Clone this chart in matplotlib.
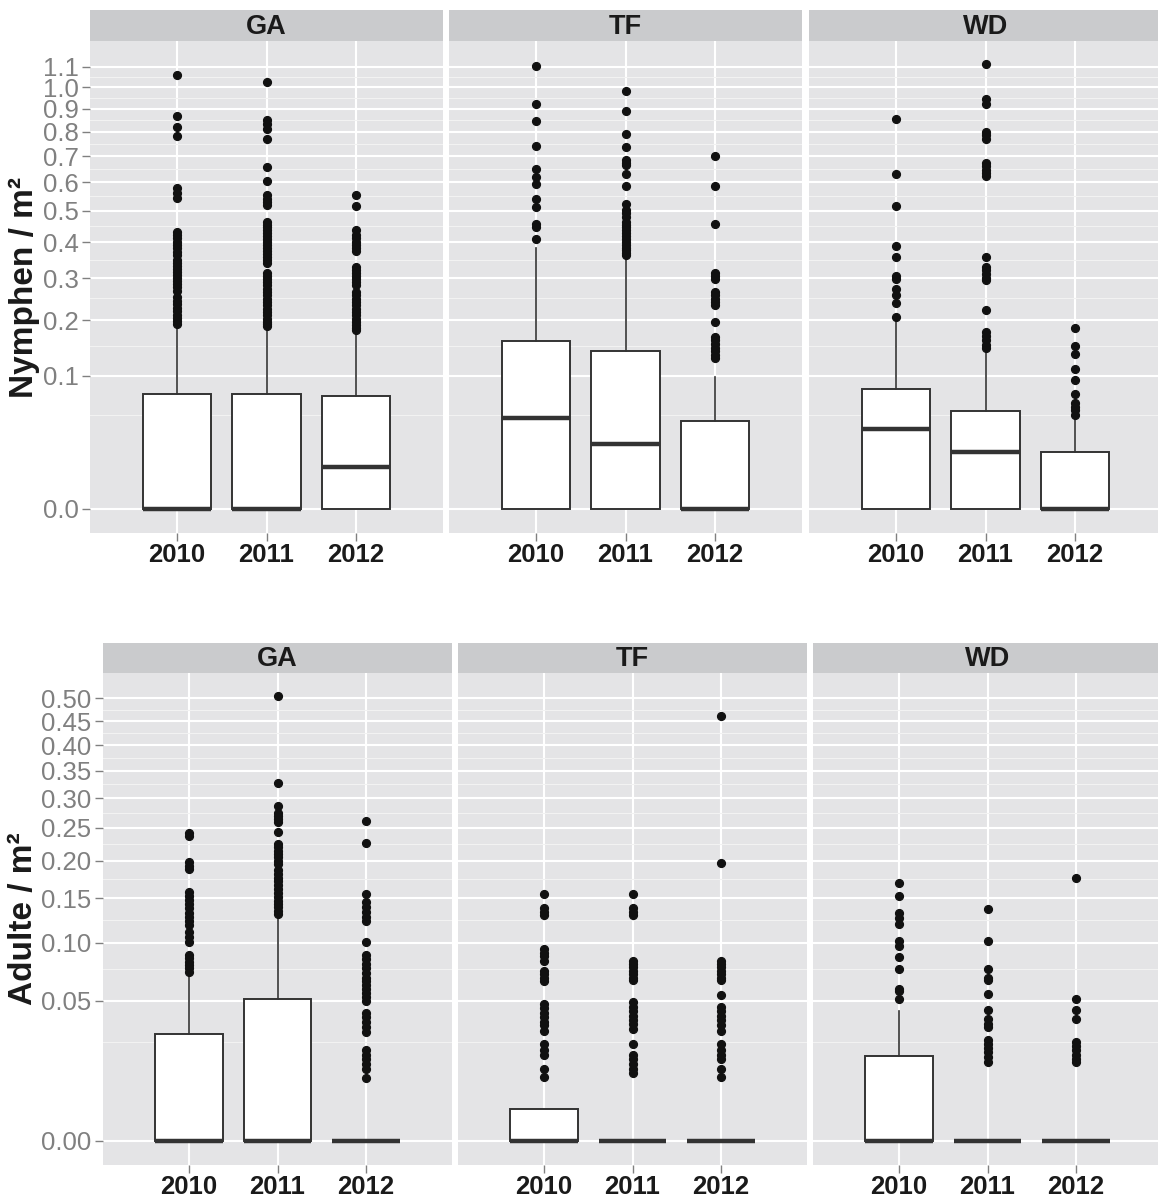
import numpy as np
import matplotlib
matplotlib.use("Agg")
import matplotlib.pyplot as plt

plt.rcParams['font.family'] = ['Liberation Sans', 'DejaVu Sans']

years = ['2010', '2011', '2012']
sites = ['GA', 'TF', 'WD']

# box statistics per site, one value per year (lower quartile and lower whisker are 0 everywhere)
nymph_med = {'GA': [0.0, 0.0, 0.0098], 'TF': [0.047, 0.0238, 0.0], 'WD': [0.0363, 0.0181, 0.0]}
nymph_q3 = {'GA': [0.0744, 0.0744, 0.0722], 'TF': [0.159, 0.141, 0.044], 'WD': [0.081, 0.0543, 0.0181]}
nymph_whi = {'GA': [0.185, 0.183, 0.175], 'TF': [0.382, 0.358, 0.098], 'WD': [0.197, 0.136, 0.0445]}

nymph_out = {
    'GA': [
        [1.059, 0.87, 0.82, 0.782, 0.579, 0.562, 0.545, 0.432, 0.422, 0.412, 0.402, 0.392,
         0.382, 0.372, 0.362, 0.35, 0.34, 0.332, 0.324, 0.316, 0.308, 0.30, 0.292, 0.284,
         0.276, 0.268, 0.252, 0.244, 0.236, 0.228, 0.22, 0.212, 0.205, 0.198, 0.193],
        [1.024, 0.851, 0.835, 0.81, 0.77, 0.656, 0.606, 0.554, 0.54, 0.53, 0.52, 0.464,
         0.455, 0.446, 0.437, 0.428, 0.419, 0.41, 0.401, 0.392, 0.383, 0.374, 0.365, 0.356,
         0.348, 0.34, 0.314, 0.305, 0.297, 0.289, 0.281, 0.273, 0.265, 0.257, 0.249, 0.241,
         0.233, 0.225, 0.218, 0.211, 0.204, 0.197, 0.192, 0.188],
        [0.556, 0.517, 0.438, 0.422, 0.412, 0.402, 0.392, 0.382, 0.375, 0.33, 0.322, 0.314,
         0.306, 0.298, 0.29, 0.282, 0.265, 0.257, 0.249, 0.241, 0.233, 0.225, 0.218, 0.211,
         0.204, 0.197, 0.19, 0.185, 0.181],
    ],
    'TF': [
        [1.105, 0.922, 0.848, 0.742, 0.65, 0.621, 0.594, 0.539, 0.512, 0.457, 0.447, 0.41],
        [0.984, 0.892, 0.791, 0.735, 0.685, 0.672, 0.664, 0.631, 0.588, 0.523, 0.503, 0.492,
         0.481, 0.464, 0.455, 0.446, 0.437, 0.428, 0.419, 0.41, 0.401, 0.392, 0.384, 0.376,
         0.369, 0.363],
        [0.70, 0.588, 0.457, 0.314, 0.305, 0.297, 0.265, 0.257, 0.249, 0.241, 0.234, 0.196,
         0.167, 0.16, 0.153, 0.146, 0.14, 0.134, 0.128],
    ],
    'WD': [
        [0.855, 0.631, 0.517, 0.39, 0.356, 0.305, 0.298, 0.271, 0.258, 0.239, 0.207],
        [1.114, 0.945, 0.922, 0.798, 0.785, 0.769, 0.672, 0.66, 0.648, 0.636, 0.625, 0.356,
         0.33, 0.32, 0.31, 0.30, 0.295, 0.223, 0.177, 0.168, 0.16, 0.152, 0.145],
        [0.185, 0.149, 0.135, 0.111, 0.093, 0.074, 0.063, 0.059, 0.055, 0.05],
    ],
}

adult_med = {'GA': [0.0, 0.0, 0.0], 'TF': [0.0, 0.0, 0.0], 'WD': [0.0, 0.0, 0.0]}
adult_q3 = {'GA': [0.0289, 0.051, 0.0], 'TF': [0.0025, 0.0, 0.0], 'WD': [0.0183, 0.0, 0.0]}
adult_whi = {'GA': [0.0692, 0.128, 0.0], 'TF': [0.0025, 0.0, 0.0], 'WD': [0.0431, 0.0, 0.0]}

adult_out = {
    'GA': [
        [0.242, 0.238, 0.198, 0.193, 0.188, 0.158, 0.153, 0.148, 0.143, 0.138, 0.133, 0.128,
         0.123, 0.119, 0.111, 0.106, 0.101, 0.088, 0.085, 0.082, 0.079, 0.076, 0.073],
        [0.505, 0.327, 0.286, 0.275, 0.27, 0.265, 0.26, 0.244, 0.225, 0.22, 0.215, 0.21,
         0.205, 0.2, 0.196, 0.187, 0.182, 0.177, 0.172, 0.167, 0.162, 0.157, 0.152, 0.147,
         0.143, 0.139, 0.135, 0.131],
        [0.261, 0.227, 0.156, 0.146, 0.14, 0.134, 0.128, 0.123, 0.101, 0.088, 0.084, 0.08,
         0.076, 0.072, 0.068, 0.065, 0.062, 0.059, 0.056, 0.053, 0.05, 0.042, 0.039, 0.036,
         0.033, 0.03, 0.021, 0.019, 0.017, 0.015, 0.013, 0.01],
    ],
    'TF': [
        [0.155, 0.138, 0.134, 0.13, 0.094, 0.09, 0.087, 0.083, 0.074, 0.071, 0.068, 0.065,
         0.048, 0.045, 0.042, 0.039, 0.036, 0.034, 0.031, 0.024, 0.021, 0.019, 0.013, 0.0105],
        [0.155, 0.138, 0.134, 0.13, 0.083, 0.08, 0.077, 0.074, 0.071, 0.068, 0.066, 0.049,
         0.046, 0.043, 0.04, 0.037, 0.035, 0.032, 0.024, 0.019, 0.017, 0.015, 0.013, 0.0116],
        [0.46, 0.197, 0.083, 0.08, 0.077, 0.074, 0.071, 0.068, 0.066, 0.054, 0.046, 0.043,
         0.04, 0.037, 0.034, 0.031, 0.024, 0.021, 0.019, 0.017, 0.013, 0.0105],
    ],
    'WD': [
        [0.17, 0.153, 0.132, 0.127, 0.12, 0.102, 0.097, 0.086, 0.075, 0.059, 0.057, 0.051],
        [0.137, 0.102, 0.075, 0.068, 0.066, 0.055, 0.044, 0.038, 0.035, 0.033, 0.026, 0.024,
         0.022, 0.02, 0.018, 0.016],
        [0.176, 0.051, 0.044, 0.038, 0.025, 0.023, 0.021, 0.019, 0.017, 0.016],
    ],
}

nymph_ticks = [0.0, 0.1, 0.2, 0.3, 0.4, 0.5, 0.6, 0.7, 0.8, 0.9, 1.0, 1.1]
nymph_labels = ['0.0', '0.1', '0.2', '0.3', '0.4', '0.5', '0.6', '0.7', '0.8', '0.9', '1.0', '1.1']
adult_ticks = [0.0, 0.05, 0.10, 0.15, 0.20, 0.25, 0.30, 0.35, 0.40, 0.45, 0.50]
adult_labels = ['0.00', '0.05', '0.10', '0.15', '0.20', '0.25', '0.30', '0.35', '0.40', '0.45', '0.50']

W, H = 1158, 1200
PANEL_BG = '#E4E4E6'
STRIP_BG = '#CACBCD'
GREY20 = '#333333'
GREY50 = '#808080'


def sqrt_fwd(v):
    v = np.asarray(v, dtype=float)
    return np.sign(v) * np.sqrt(np.abs(v))


def sqrt_inv(v):
    v = np.asarray(v, dtype=float)
    return np.sign(v) * v ** 2


def px_axes(fig, x0, y0, x1, y1):
    return fig.add_axes([x0 / W, 1 - y1 / H, (x1 - x0) / W, (y1 - y0) / H])


def draw_row(fig, lefts, top, bottom, strip_top, med, q3, whi, out,
             ticks, labels, ylim, title, title_y):
    width = 353 if lefts[0] < 100 else 349
    for i, site in enumerate(sites):
        x0 = lefts[i]
        ax = px_axes(fig, x0, top, x0 + width, bottom)
        ax.set_yscale('function', functions=(sqrt_fwd, sqrt_inv))
        ax.set_facecolor(PANEL_BG)
        stats = []
        for j, yr in enumerate(years):
            stats.append(dict(med=med[site][j], q1=0.0, q3=q3[site][j],
                              whislo=0.0, whishi=whi[site][j],
                              fliers=np.array(out[site][j]), label=yr))
        ax.bxp(stats, positions=[1, 2, 3], widths=0.76, patch_artist=True,
               showcaps=False,
               boxprops=dict(facecolor='white', edgecolor=GREY20, linewidth=1.4),
               medianprops=dict(color=GREY20, linewidth=3.2, solid_capstyle='butt'),
               whiskerprops=dict(color=GREY20, linewidth=1.2),
               flierprops=dict(marker='o', markerfacecolor='#111111',
                               markeredgecolor='#111111', markersize=5.6))
        ax.set_xlim(0.03, 3.97)
        ax.set_ylim(*ylim)
        ax.set_xticks([1, 2, 3])
        ax.set_xticklabels(years, fontsize=18.5, fontweight='bold', color='#1a1a1a')
        ax.set_yticks(ticks)
        minor = [(a + b) / 2 for a, b in zip(ticks[:-1], ticks[1:])]
        ax.set_yticks(minor, minor=True)
        ax.set_axisbelow(True)
        ax.grid(which='major', color='white', linewidth=1.5)
        ax.grid(which='minor', axis='y', color='#F2F2F2', linewidth=0.8)
        ax.tick_params(axis='x', length=5.8, width=1.0, color=GREY50, pad=1.5)
        ax.tick_params(axis='y', which='minor', length=0)
        if i == 0:
            ax.set_yticklabels(labels, fontsize=18.5, color=GREY50)
            ax.tick_params(axis='y', which='major', length=5.8, width=1.0,
                           color=GREY50, pad=2.5)
        else:
            ax.tick_params(axis='y', which='major', length=0, labelleft=False)
        for sp in ax.spines.values():
            sp.set_visible(False)

        sax = px_axes(fig, x0, strip_top, x0 + width, top)
        sax.set_facecolor(STRIP_BG)
        sax.set_xticks([])
        sax.set_yticks([])
        for sp in sax.spines.values():
            sp.set_visible(False)
        sax.text(0.5, 0.45, site, transform=sax.transAxes, ha='center', va='center',
                 fontsize=19.5, fontweight='bold', color='#1a1a1a')

    fig.text(24 / W, 1 - title_y / H, title, rotation=90, ha='center', va='center',
             fontsize=24, fontweight='bold', color='#1a1a1a')


fig = plt.figure(figsize=(W / 100, H / 100), dpi=100)

draw_row(fig, [90, 449, 809], 41, 533, 10,
         nymph_med, nymph_q3, nymph_whi, nymph_out,
         nymph_ticks, nymph_labels, (-0.00324, 1.2317), 'Nymphen / m²', 287)

draw_row(fig, [103, 458, 813], 673, 1165, 643,
         adult_med, adult_q3, adult_whi, adult_out,
         adult_ticks, adult_labels, (-0.0015, 0.5589), 'Adulte / m²', 919)

fig.savefig('out.png', dpi=100)
